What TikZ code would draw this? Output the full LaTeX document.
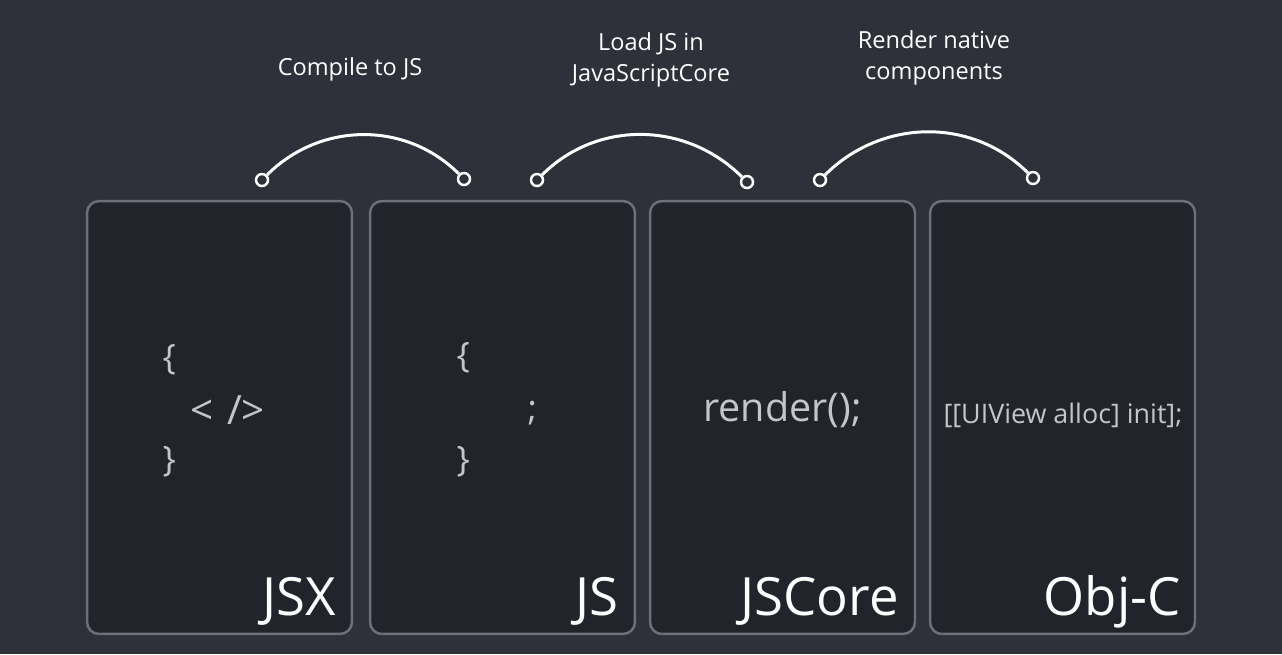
\documentclass[tikz,border=0pt]{standalone}
\usepackage{fontspec}
\setmainfont{Open Sans}
\usetikzlibrary{positioning}
\definecolor{bgcol}{HTML}{2E3139}
\definecolor{boxcol}{HTML}{22242B}
\definecolor{edgecol}{HTML}{6D6F7B}
\definecolor{codecol}{HTML}{C4C5CA}

\begin{document}
\begin{tikzpicture}[x=0.02cm,y=-0.02cm,semithick]
\tikzstyle{stage}=[draw=edgecol,fill=boxcol,line width=1.4pt,rounded corners=0.24cm,minimum width=5.3cm,minimum height=8.66cm,inner sep=0pt]
\tikzstyle{title}=[text=white,font=\fontsize{30}{36}\selectfont,inner sep=0pt,anchor=base east]
\tikzstyle{code}=[text=codecol,font=\fontsize{20}{24}\selectfont,inner sep=0pt]
\tikzstyle{note}=[text=white,font=\fontsize{13.4}{17.5}\selectfont,align=center]
\tikzstyle{dot}=[circle,draw=white,fill=bgcol,line width=1.4pt,minimum size=0.24cm,inner sep=0pt]
\tikzstyle{hop}=[draw=white,line width=1.7pt,out=45,in=135]
\fill[bgcol] (0,0) rectangle (1282,654);
\useasboundingbox (0,0) rectangle (1282,654);
% the four stages
\node[stage] (jsx) at (219.5,417.5) {};
\node[stage] (js) at (502.5,417.5) {};
\node[stage] (core) at (782.5,417.5) {};
\node[stage] (objc) at (1062.5,417.5) {};
\node[title] (jsxl) at ([shift={(-17,-20)}]jsx.south east) {JSX};
\node[title] (jsl) at ([shift={(-17,-20)}]js.south east) {JS};
\node[title] (corel) at ([shift={(-17,-20)}]core.south east) {JSCore};
\node[title] (objcl) at ([shift={(-15,-20)}]objc.south east) {Obj-C};
% code in the boxes
\node[code,anchor=west] (jsxo) at (162,360) {\{};
\node[code,anchor=west,font=\fontsize{23}{28}\selectfont] (jsxt) at (190,410) {<\,\,/>};
\node[code,anchor=west] (jsxc) at (162,462) {\}};
\node[code,anchor=west] (jso) at (456,358) {\{};
\node[code,anchor=west] (jss) at (527,413) {;};
\node[code,anchor=west] (jsc) at (456,462) {\}};
\node[code,font=\fontsize{22.5}{28}\selectfont] (render) at (782.5,410) {render();};
\node[code,font=\fontsize{15.3}{18}\selectfont] (alloc) at (1063,415) {[[UIView alloc] init];};
% steps between them
\node[dot] (a1) at (262,180) {};
\node[dot] (b1) at (464,179) {};
\node[dot] (a2) at (537,180) {};
\node[dot] (b2) at (747,182) {};
\node[dot] (a3) at (820,180) {};
\node[dot] (b3) at (1033,178) {};
\draw[hop] (a1) to (b1);
\draw[hop] (a2) to (b2);
\draw[hop] (a3) to (b3);
\node[note] (n1) at (350,69) {Compile to JS};
\node[note] (n2) at (651,60) {Load JS in\\JavaScriptCore};
\node[note] (n3) at (934,58) {Render native\\components};
\end{tikzpicture}
\end{document}
